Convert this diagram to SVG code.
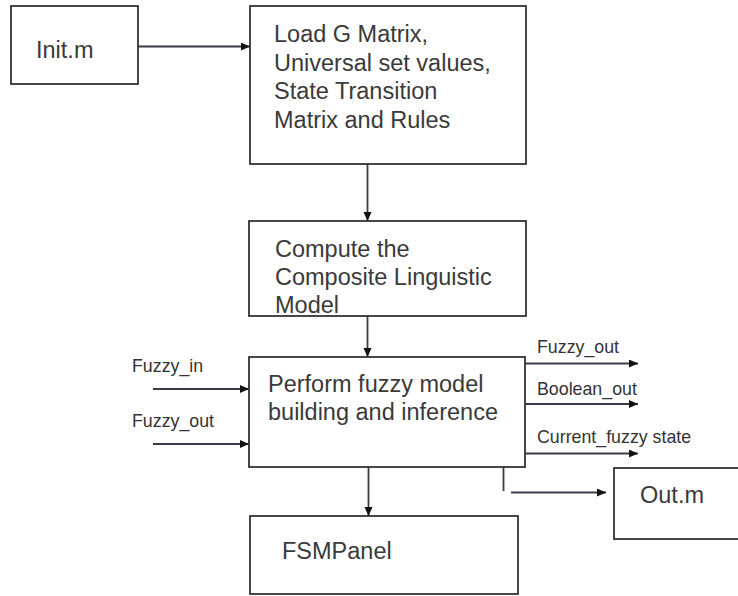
<svg xmlns="http://www.w3.org/2000/svg" width="738" height="596" viewBox="0 0 738 596">
<defs>
<marker id="arr" markerUnits="userSpaceOnUse" markerWidth="10" markerHeight="10" refX="9" refY="4" orient="auto">
<path d="M0,0 L9,4 L0,8 Z" fill="#111"/>
</marker>
<style>
.box{fill:#fff;stroke:#333;stroke-width:1.8}
.t{font-family:"Liberation Sans",Arial,sans-serif;font-size:23.5px;fill:#3a3a3a}
.l{font-family:"Liberation Sans",Arial,sans-serif;font-size:17.8px;fill:#333}
.c{fill:none;stroke:#3a3a48;stroke-width:1.8}
</style>
</defs>
<rect width="738" height="596" fill="#fff"/>
<g id="connectors">
<line class="c" x1="138" y1="46.5" x2="250" y2="46.5" marker-end="url(#arr)"/>
<line class="c" x1="367.5" y1="164" x2="367.5" y2="221" marker-end="url(#arr)"/>
<line class="c" x1="367.5" y1="316" x2="367.5" y2="357" marker-end="url(#arr)"/>
<line class="c" x1="153" y1="389" x2="249" y2="389" marker-end="url(#arr)"/>
<line class="c" x1="153" y1="444" x2="249" y2="444" marker-end="url(#arr)"/>
<line class="c" x1="525" y1="363.5" x2="638" y2="363.5" marker-end="url(#arr)"/>
<line class="c" x1="525" y1="404" x2="638" y2="404" marker-end="url(#arr)"/>
<line class="c" x1="525" y1="453.5" x2="638" y2="453.5" marker-end="url(#arr)"/>
<line class="c" x1="368.5" y1="467" x2="368.5" y2="516" marker-end="url(#arr)"/>
<line class="c" x1="503.5" y1="467" x2="503.5" y2="491"/>
<line class="c" x1="511" y1="492.5" x2="606" y2="492.5" marker-end="url(#arr)"/>
<text class="l" x="132" y="371.5">Fuzzy_in</text>
<text class="l" x="132" y="427">Fuzzy_out</text>
<text class="l" x="537" y="353">Fuzzy_out</text>
<text class="l" x="537" y="395">Boolean_out</text>
<text class="l" x="537" y="443">Current_fuzzy state</text>
</g>
<g id="init">
<rect class="box" x="11" y="6" width="127" height="78"/>
<text class="t" x="36" y="58">Init.m</text>
</g>
<g id="load">
<rect class="box" x="250" y="6" width="276" height="158"/>
<text class="t" x="274" y="41.5">Load G Matrix,</text>
<text class="t" x="274" y="70.5">Universal set values,</text>
<text class="t" x="274" y="99">State Transition</text>
<text class="t" x="274" y="127.5">Matrix and Rules</text>
</g>
<g id="compute">
<rect class="box" x="249" y="221" width="277" height="95"/>
<text class="t" x="275" y="257">Compute the</text>
<text class="t" x="275" y="285">Composite Linguistic</text>
<text class="t" x="275" y="313">Model</text>
</g>
<g id="perform">
<rect class="box" x="249" y="357" width="276" height="110"/>
<text class="t" x="268" y="392">Perform fuzzy model</text>
<text class="t" x="268" y="420">building and inference</text>
</g>
<g id="fsmpanel">
<rect class="box" x="250" y="516" width="268" height="78"/>
<text class="t" x="282" y="559">FSMPanel</text>
</g>
<g id="out">
<rect class="box" x="614" y="468" width="130" height="71"/>
<text class="t" x="640" y="503">Out.m</text>
</g>
</svg>
